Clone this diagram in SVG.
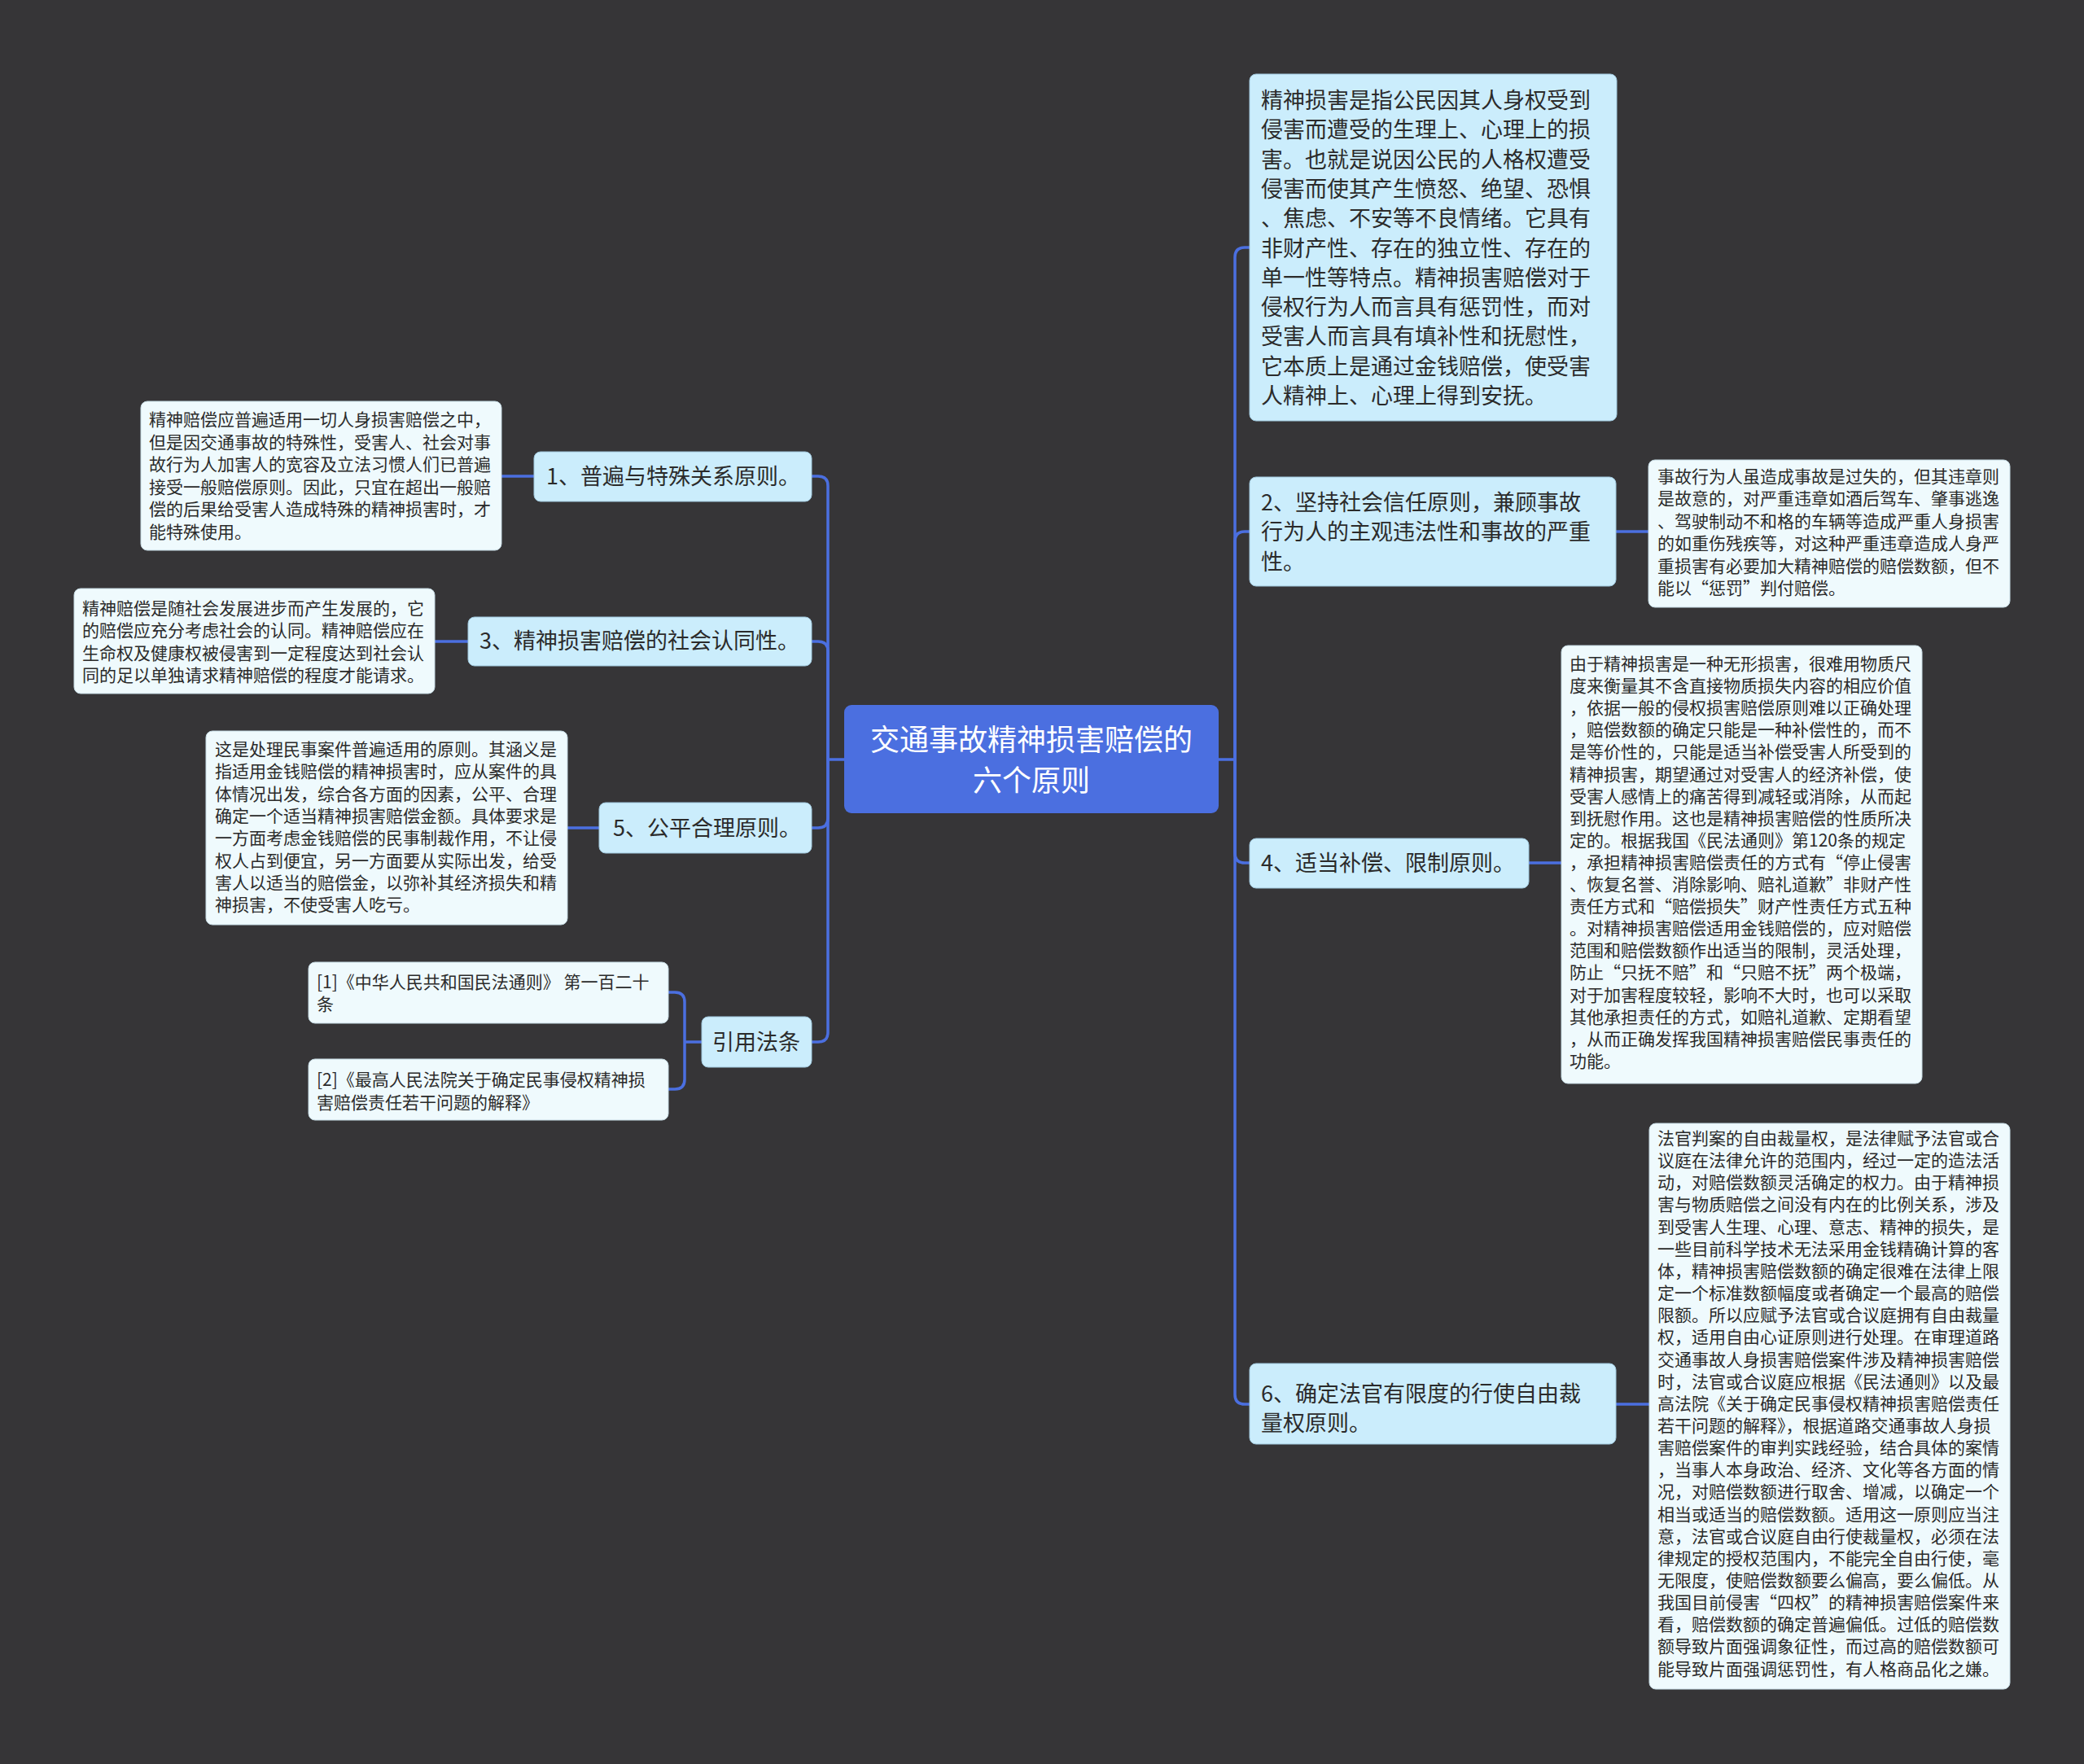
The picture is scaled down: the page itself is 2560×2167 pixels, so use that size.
<svg xmlns="http://www.w3.org/2000/svg" width="2560" height="2167" viewBox="0 0 2560 2167">
<style>
.bg{fill:#363537}
.root{fill:#4b6fe0}
.main{fill:#cbedfc;stroke:#9fc7dc;stroke-width:1}
.det{fill:#effafd;stroke:#c4d9e2;stroke-width:1}
.t{font-family:"Microsoft YaHei","Noto Sans CJK SC","Noto Sans",sans-serif;fill:#2b2b2b}
.tm{font-size:27px}
.td{font-size:21px}
.tr{font-family:"Microsoft YaHei","Noto Sans CJK SC","Noto Sans",sans-serif;font-size:36px;fill:#ffffff;text-anchor:middle}
.c{fill:none;stroke:#4b6fe0;stroke-width:3.5}
</style>
<rect class="bg" x="0" y="0" width="2560" height="2167"/>

<g id="connectors">
<path class="c" d="M1497,933 H1517"/>
<path class="c" d="M1517,933 V316 Q1517,304 1529,304 H1535"/>
<path class="c" d="M1517,933 V665 Q1517,653 1529,653 H1535"/>
<path class="c" d="M1517,933 V1048 Q1517,1060 1529,1060 H1535"/>
<path class="c" d="M1517,933 V1713 Q1517,1725 1529,1725 H1535"/>
<path class="c" d="M1985,653 H2025"/>
<path class="c" d="M1878,1060 H1918"/>
<path class="c" d="M1985,1725 H2026"/>
<path class="c" d="M1037,933 H1017"/>
<path class="c" d="M1017,933 V597 Q1017,585 1005,585 H997"/>
<path class="c" d="M1017,933 V800 Q1017,788 1005,788 H997"/>
<path class="c" d="M1017,933 V1005 Q1017,1017 1005,1017 H997"/>
<path class="c" d="M1017,933 V1268 Q1017,1280 1005,1280 H997"/>
<path class="c" d="M656,585 H616"/>
<path class="c" d="M575,788 H534"/>
<path class="c" d="M736,1017 H697"/>
<path class="c" d="M862,1280 H841"/>
<path class="c" d="M841,1280 V1231 Q841,1219 829,1219 H821"/>
<path class="c" d="M841,1280 V1326 Q841,1338 829,1338 H821"/>
</g>

<g id="root">
<rect class="root" x="1037" y="866" width="460" height="133" rx="9"/>
<text class="tr" x="1267" y="922">交通事故精神损害赔偿的</text>
<text class="tr" x="1267" y="972">六个原则</text>
</g>

<g id="nodeA">
<rect class="main" x="1535" y="91" width="451" height="426" rx="8"/>
<text class="t tm" x="1549">
<tspan x="1549" y="133">精神损害是指公民因其人身权受到</tspan>
<tspan x="1549" y="169.3">侵害而遭受的生理上、心理上的损</tspan>
<tspan x="1549" y="205.6">害。也就是说因公民的人格权遭受</tspan>
<tspan x="1549" y="241.9">侵害而使其产生愤怒、绝望、恐惧</tspan>
<tspan x="1549" y="278.2">、焦虑、不安等不良情绪。它具有</tspan>
<tspan x="1549" y="314.5">非财产性、存在的独立性、存在的</tspan>
<tspan x="1549" y="350.8">单一性等特点。精神损害赔偿对于</tspan>
<tspan x="1549" y="387.1">侵权行为人而言具有惩罚性，而对</tspan>
<tspan x="1549" y="423.4">受害人而言具有填补性和抚慰性，</tspan>
<tspan x="1549" y="459.7">它本质上是通过金钱赔偿，使受害</tspan>
<tspan x="1549" y="496">人精神上、心理上得到安抚。</tspan>
</text>
</g>

<g id="nodeB">
<rect class="main" x="1535" y="586" width="450" height="134" rx="8"/>
<text class="t tm">
<tspan x="1549" y="627">2、坚持社会信任原则，兼顾事故</tspan>
<tspan x="1549" y="663">行为人的主观违法性和事故的严重</tspan>
<tspan x="1549" y="700">性。</tspan>
</text>
</g>

<g id="nodeB-detail">
<rect class="det" x="2025" y="565" width="444" height="181" rx="8"/>
<text class="t td">
<tspan x="2036" y="593">事故行为人虽造成事故是过失的，但其违章则</tspan>
<tspan x="2036" y="620.4">是故意的，对严重违章如酒后驾车、肇事逃逸</tspan>
<tspan x="2036" y="647.8">、驾驶制动不和格的车辆等造成严重人身损害</tspan>
<tspan x="2036" y="675.2">的如重伤残疾等，对这种严重违章造成人身严</tspan>
<tspan x="2036" y="702.6">重损害有必要加大精神赔偿的赔偿数额，但不</tspan>
<tspan x="2036" y="730">能以“惩罚”判付赔偿。</tspan>
</text>
</g>

<g id="node4">
<rect class="main" x="1535" y="1030" width="343" height="61" rx="8"/>
<text class="t tm" x="1549" y="1070">4、适当补偿、限制原则。</text>
</g>

<g id="node4-detail">
<rect class="det" x="1918" y="793" width="443" height="538" rx="8"/>
<text class="t td">
<tspan x="1928" y="823">由于精神损害是一种无形损害，很难用物质尺</tspan>
<tspan x="1928" y="850.1">度来衡量其不含直接物质损失内容的相应价值</tspan>
<tspan x="1928" y="877.2">，依据一般的侵权损害赔偿原则难以正确处理</tspan>
<tspan x="1928" y="904.3">，赔偿数额的确定只能是一种补偿性的，而不</tspan>
<tspan x="1928" y="931.4">是等价性的，只能是适当补偿受害人所受到的</tspan>
<tspan x="1928" y="958.5">精神损害，期望通过对受害人的经济补偿，使</tspan>
<tspan x="1928" y="985.6">受害人感情上的痛苦得到减轻或消除，从而起</tspan>
<tspan x="1928" y="1012.7">到抚慰作用。这也是精神损害赔偿的性质所决</tspan>
<tspan x="1928" y="1039.8">定的。根据我国《民法通则》第120条的规定</tspan>
<tspan x="1928" y="1066.9">，承担精神损害赔偿责任的方式有“停止侵害</tspan>
<tspan x="1928" y="1094">、恢复名誉、消除影响、赔礼道歉”非财产性</tspan>
<tspan x="1928" y="1121.1">责任方式和“赔偿损失”财产性责任方式五种</tspan>
<tspan x="1928" y="1148.2">。对精神损害赔偿适用金钱赔偿的，应对赔偿</tspan>
<tspan x="1928" y="1175.3">范围和赔偿数额作出适当的限制，灵活处理，</tspan>
<tspan x="1928" y="1202.4">防止“只抚不赔”和“只赔不抚”两个极端，</tspan>
<tspan x="1928" y="1229.5">对于加害程度较轻，影响不大时，也可以采取</tspan>
<tspan x="1928" y="1256.6">其他承担责任的方式，如赔礼道歉、定期看望</tspan>
<tspan x="1928" y="1283.7">，从而正确发挥我国精神损害赔偿民事责任的</tspan>
<tspan x="1928" y="1310.8">功能。</tspan>
</text>
</g>

<g id="node6">
<rect class="main" x="1535" y="1675" width="450" height="99" rx="8"/>
<text class="t tm">
<tspan x="1549" y="1722">6、确定法官有限度的行使自由裁</tspan>
<tspan x="1549" y="1758">量权原则。</tspan>
</text>
</g>

<g id="node6-detail">
<rect class="det" x="2026" y="1380" width="443" height="695" rx="8"/>
<text class="t td">
<tspan x="2036" y="1406">法官判案的自由裁量权，是法律赋予法官或合</tspan>
<tspan x="2036" y="1433.15">议庭在法律允许的范围内，经过一定的造法活</tspan>
<tspan x="2036" y="1460.3">动，对赔偿数额灵活确定的权力。由于精神损</tspan>
<tspan x="2036" y="1487.45">害与物质赔偿之间没有内在的比例关系，涉及</tspan>
<tspan x="2036" y="1514.6">到受害人生理、心理、意志、精神的损失，是</tspan>
<tspan x="2036" y="1541.75">一些目前科学技术无法采用金钱精确计算的客</tspan>
<tspan x="2036" y="1568.9">体，精神损害赔偿数额的确定很难在法律上限</tspan>
<tspan x="2036" y="1596.05">定一个标准数额幅度或者确定一个最高的赔偿</tspan>
<tspan x="2036" y="1623.2">限额。所以应赋予法官或合议庭拥有自由裁量</tspan>
<tspan x="2036" y="1650.35">权，适用自由心证原则进行处理。在审理道路</tspan>
<tspan x="2036" y="1677.5">交通事故人身损害赔偿案件涉及精神损害赔偿</tspan>
<tspan x="2036" y="1704.65">时，法官或合议庭应根据《民法通则》以及最</tspan>
<tspan x="2036" y="1731.8">高法院《关于确定民事侵权精神损害赔偿责任</tspan>
<tspan x="2036" y="1758.95">若干问题的解释》，根据道路交通事故人身损</tspan>
<tspan x="2036" y="1786.1">害赔偿案件的审判实践经验，结合具体的案情</tspan>
<tspan x="2036" y="1813.25">，当事人本身政治、经济、文化等各方面的情</tspan>
<tspan x="2036" y="1840.4">况，对赔偿数额进行取舍、增减，以确定一个</tspan>
<tspan x="2036" y="1867.55">相当或适当的赔偿数额。适用这一原则应当注</tspan>
<tspan x="2036" y="1894.7">意，法官或合议庭自由行使裁量权，必须在法</tspan>
<tspan x="2036" y="1921.85">律规定的授权范围内，不能完全自由行使，毫</tspan>
<tspan x="2036" y="1949">无限度，使赔偿数额要么偏高，要么偏低。从</tspan>
<tspan x="2036" y="1976.15">我国目前侵害“四权”的精神损害赔偿案件来</tspan>
<tspan x="2036" y="2003.3">看，赔偿数额的确定普遍偏低。过低的赔偿数</tspan>
<tspan x="2036" y="2030.45">额导致片面强调象征性，而过高的赔偿数额可</tspan>
<tspan x="2036" y="2057.6">能导致片面强调惩罚性，有人格商品化之嫌。</tspan>
</text>
</g>

<g id="node1">
<rect class="main" x="656" y="555" width="341" height="61" rx="8"/>
<text class="t tm" x="671" y="595">1、普遍与特殊关系原则。</text>
</g>

<g id="node1-detail">
<rect class="det" x="173" y="493" width="443" height="183" rx="8"/>
<text class="t td">
<tspan x="183" y="523">精神赔偿应普遍适用一切人身损害赔偿之中，</tspan>
<tspan x="183" y="550.6">但是因交通事故的特殊性，受害人、社会对事</tspan>
<tspan x="183" y="578.2">故行为人加害人的宽容及立法习惯人们已普遍</tspan>
<tspan x="183" y="605.8">接受一般赔偿原则。因此，只宜在超出一般赔</tspan>
<tspan x="183" y="633.4">偿的后果给受害人造成特殊的精神损害时，才</tspan>
<tspan x="183" y="661">能特殊使用。</tspan>
</text>
</g>

<g id="node3">
<rect class="main" x="575" y="758" width="422" height="60" rx="8"/>
<text class="t tm" x="589" y="797">3、精神损害赔偿的社会认同性。</text>
</g>

<g id="node3-detail">
<rect class="det" x="91" y="723" width="443" height="129" rx="8"/>
<text class="t td">
<tspan x="101" y="755">精神赔偿是随社会发展进步而产生发展的，它</tspan>
<tspan x="101" y="782.3">的赔偿应充分考虑社会的认同。精神赔偿应在</tspan>
<tspan x="101" y="809.6">生命权及健康权被侵害到一定程度达到社会认</tspan>
<tspan x="101" y="837">同的足以单独请求精神赔偿的程度才能请求。</tspan>
</text>
</g>

<g id="node5">
<rect class="main" x="736" y="986" width="261" height="62" rx="8"/>
<text class="t tm" x="753" y="1027">5、公平合理原则。</text>
</g>

<g id="node5-detail">
<rect class="det" x="253" y="898" width="444" height="238" rx="8"/>
<text class="t td">
<tspan x="264" y="928">这是处理民事案件普遍适用的原则。其涵义是</tspan>
<tspan x="264" y="955.3">指适用金钱赔偿的精神损害时，应从案件的具</tspan>
<tspan x="264" y="982.6">体情况出发，综合各方面的因素，公平、合理</tspan>
<tspan x="264" y="1009.9">确定一个适当精神损害赔偿金额。具体要求是</tspan>
<tspan x="264" y="1037.2">一方面考虑金钱赔偿的民事制裁作用，不让侵</tspan>
<tspan x="264" y="1064.5">权人占到便宜，另一方面要从实际出发，给受</tspan>
<tspan x="264" y="1091.8">害人以适当的赔偿金，以弥补其经济损失和精</tspan>
<tspan x="264" y="1119">神损害，不使受害人吃亏。</tspan>
</text>
</g>

<g id="node-ref">
<rect class="main" x="862" y="1249" width="135" height="62" rx="8"/>
<text class="t tm" x="875" y="1290">引用法条</text>
</g>

<g id="ref1">
<rect class="det" x="379" y="1182" width="442" height="75" rx="8"/>
<text class="t td">
<tspan x="389" y="1214">[1]《中华人民共和国民法通则》 第一百二十</tspan>
<tspan x="389" y="1241">条</tspan>
</text>
</g>

<g id="ref2">
<rect class="det" x="379" y="1301" width="442" height="75" rx="8"/>
<text class="t td">
<tspan x="389" y="1334">[2]《最高人民法院关于确定民事侵权精神损</tspan>
<tspan x="389" y="1362">害赔偿责任若干问题的解释》</tspan>
</text>
</g>
</svg>
